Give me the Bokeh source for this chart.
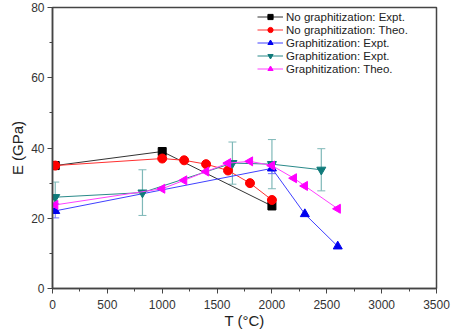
from bokeh.plotting import figure
from bokeh.models import ColumnDataSource, Whisker, Range1d, FixedTicker, Legend
from bokeh.embed import file_html
from bokeh.resources import INLINE

# Young's modulus vs. heat-treatment temperature
ng_expt_T = [25, 1000, 2000]
ng_expt_E = [35.0, 39.0, 23.5]

ng_theo_T = [25, 1000, 1200, 1400, 1600, 1800, 2000]
ng_theo_E = [35.0, 37.0, 36.5, 35.4, 33.6, 30.0, 25.2]

g_expt_T = [25, 2000, 2300, 2600]
g_expt_E = [22.1, 34.2, 21.2, 12.0]
g_expt_err = [2.0, 1.5, 0.0, 0.0]

g_expt2_T = [25, 820, 1640, 2000, 2450]
g_expt2_E = [26.0, 27.3, 35.7, 35.4, 33.8]
g_expt2_err = [4.3, 6.5, 6.0, 7.0, 6.0]

g_theo_T = [25, 1000, 1200, 1400, 1600, 1800, 2000, 2200, 2300, 2600]
g_theo_E = [23.8, 28.4, 30.8, 33.3, 35.7, 36.2, 35.0, 31.4, 29.2, 22.7]

FONT = "Liberation Sans"

p = figure(width=454, height=331, output_backend="svg", toolbar_location=None,
           x_range=Range1d(0, 3500), y_range=Range1d(0, 80),
           min_border_left=52, min_border_right=18, min_border_top=7, min_border_bottom=42)
p.grid.visible = False
p.outline_line_color = "#444444"
p.outline_line_width = 1.5
p.background_fill_color = "white"
p.border_fill_color = "white"

p.xaxis.ticker = FixedTicker(ticks=list(range(0, 3501, 500)),
                             minor_ticks=list(range(0, 3501, 250)))
p.yaxis.ticker = FixedTicker(ticks=list(range(0, 81, 20)),
                             minor_ticks=list(range(0, 81, 10)))
for ax in (p.xaxis[0], p.yaxis[0]):
    ax.axis_line_color = "#444444"
    ax.axis_line_width = 1.5
    ax.major_tick_line_color = "#444444"
    ax.minor_tick_line_color = "#444444"
    ax.major_tick_out = 5
    ax.major_tick_in = 0
    ax.minor_tick_out = 3
    ax.minor_tick_in = 0
    ax.major_label_text_font = FONT
    ax.major_label_text_font_size = "12px"
    ax.major_label_text_color = "#333333"
    ax.axis_label_text_font = FONT
    ax.axis_label_text_font_size = "15px"
    ax.axis_label_text_font_style = "normal"
    ax.axis_label_text_color = "#222222"
p.xaxis.axis_label = "T (°C)"
p.yaxis.axis_label = "E (GPa)"
p.xaxis.axis_label_standoff = 0
p.yaxis.axis_label_standoff = 2
p.xaxis.major_label_standoff = 6
p.yaxis.major_label_standoff = 3

# error bars
teal = "#0f7a7a"
src_err2 = ColumnDataSource(dict(x=g_expt2_T,
                                 lo=[e - d for e, d in zip(g_expt2_E, g_expt2_err)],
                                 hi=[e + d for e, d in zip(g_expt2_E, g_expt2_err)]))
w2 = Whisker(source=src_err2, base="x", lower="lo", upper="hi",
             line_color="#7fb8b8", line_width=1.2)
w2.upper_head.line_color = "#7fb8b8"
w2.lower_head.line_color = "#7fb8b8"
w2.upper_head.size = 8
w2.lower_head.size = 8
p.add_layout(w2)

src_err1 = ColumnDataSource(dict(x=g_expt_T[:2],
                                 lo=[e - d for e, d in zip(g_expt_E[:2], g_expt_err[:2])],
                                 hi=[e + d for e, d in zip(g_expt_E[:2], g_expt_err[:2])]))
w1 = Whisker(source=src_err1, base="x", lower="lo", upper="hi",
             line_color="#6f6fff", line_width=1)
w1.upper_head.line_color = "#6f6fff"
w1.lower_head.line_color = "#6f6fff"
w1.upper_head.size = 8
w1.lower_head.size = 8
p.add_layout(w1)

series = [
    ("No graphitization: Expt.", ng_expt_T, ng_expt_E, "black", "#333333", "square", 8),
    ("No graphitization: Theo.", ng_theo_T, ng_theo_E, "red", "#ff3030", "circle", 9),
    ("Graphitization: Expt.", g_expt_T, g_expt_E, "#0000ee", "#4040ff", "triangle", 9),
    ("Graphitization: Expt. ", g_expt2_T, g_expt2_E, teal, "#2a8a8a", "inverted_triangle", 9),
    ("Graphitization: Theo.", g_theo_T, g_theo_E, "#ff00ff", "#ff40ff", "triangle", 9),
]

items = []
for label, xs, ys, mcolor, lcolor, marker, size in series:
    src = ColumnDataSource(dict(x=xs, y=ys))
    ln = p.line("x", "y", source=src, line_color=lcolor, line_width=1)
    if label == "Graphitization: Theo.":
        sc = p.scatter("x", "y", source=src, marker=marker, size=size, angle=1.5708,
                       fill_color=mcolor, line_color=mcolor)
    else:
        sc = p.scatter("x", "y", source=src, marker=marker, size=size,
                       fill_color=mcolor, line_color=mcolor)
    items.append((label.strip(), [ln, sc]))

legend = Legend(items=items, location=(205, 213))
legend.border_line_color = None
legend.background_fill_alpha = 0
legend.label_text_font = FONT
legend.label_text_font_size = "11.5px"
legend.label_text_color = "#222222"
legend.label_height = 13
legend.glyph_height = 13
legend.glyph_width = 26
legend.label_standoff = 3
legend.spacing = 0
legend.padding = 4
legend.margin = 0
p.add_layout(legend)

open("out.html", "w").write(file_html(p, INLINE))
